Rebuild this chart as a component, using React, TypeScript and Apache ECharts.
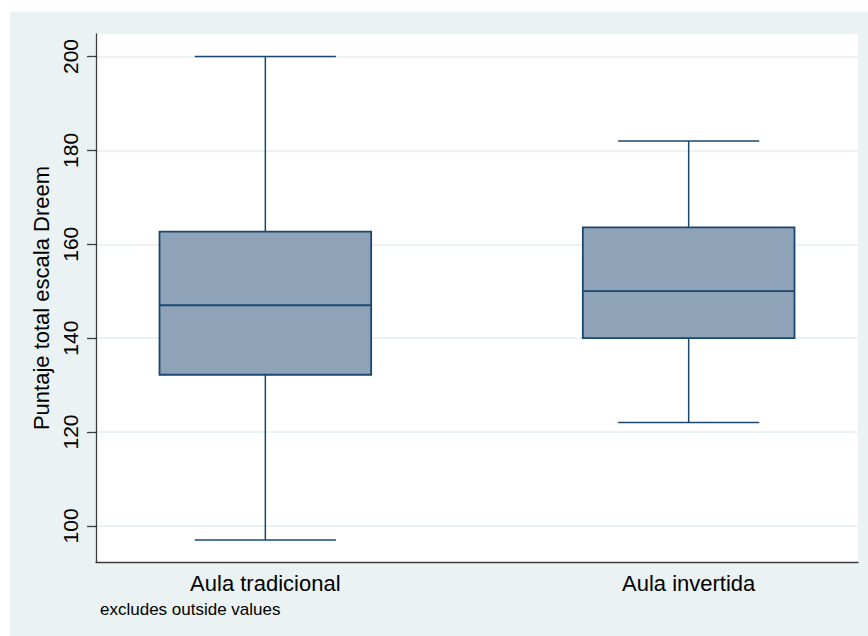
import React, { useEffect, useRef } from "react";
import * as echarts from "echarts";

// Groups and their box-plot summaries (whiskers exclude outside values)
const categories = ["Aula tradicional", "Aula invertida"];
const positions = [1, 2];
const lowerWhisker = [97, 122];
const q1 = [132.2, 140];
const median = [147, 150];
const q3 = [162.7, 163.6];
const upperWhisker = [200, 182];

const yTicks = [100, 120, 140, 160, 180, 200];

const BOX_WIDTH = 0.5; // in x-axis units
const CAP_WIDTH = 1 / 3;
const BOX_FILL = "#8ea3b8";
const BOX_LINE = "#1a476f";
const FONT = "Liberation Sans, Arial, Helvetica, sans-serif";

export default function App() {
  const ref = useRef<HTMLDivElement>(null);

  useEffect(() => {
    if (!ref.current) return;
    const chart = echarts.init(ref.current, undefined, { renderer: "svg" });

    const data = categories.map((_, i) => [
      positions[i],
      lowerWhisker[i],
      q1[i],
      median[i],
      q3[i],
      upperWhisker[i],
    ]);

    const renderItem = (params: any, api: any) => {
      const x = api.value(0);
      const pMin = api.coord([x, api.value(1)]);
      const pQ1 = api.coord([x, api.value(2)]);
      const pMed = api.coord([x, api.value(3)]);
      const pQ3 = api.coord([x, api.value(4)]);
      const pMax = api.coord([x, api.value(5)]);
      const boxW = api.size([BOX_WIDTH, 0])[0];
      const capW = api.size([CAP_WIDTH, 0])[0];
      const cx = pMed[0];
      const lineStyle = { stroke: BOX_LINE, lineWidth: 1.5, fill: null };
      return {
        type: "group",
        children: [
          { type: "line", shape: { x1: cx, y1: pMax[1], x2: cx, y2: pQ3[1] }, style: lineStyle },
          { type: "line", shape: { x1: cx, y1: pQ1[1], x2: cx, y2: pMin[1] }, style: lineStyle },
          { type: "line", shape: { x1: cx - capW / 2, y1: pMax[1], x2: cx + capW / 2, y2: pMax[1] }, style: lineStyle },
          { type: "line", shape: { x1: cx - capW / 2, y1: pMin[1], x2: cx + capW / 2, y2: pMin[1] }, style: lineStyle },
          {
            type: "rect",
            shape: { x: cx - boxW / 2, y: pQ3[1], width: boxW, height: pQ1[1] - pQ3[1] },
            style: { fill: BOX_FILL, stroke: BOX_LINE, lineWidth: 1.8 },
          },
          { type: "line", shape: { x1: cx - boxW / 2, y1: pMed[1], x2: cx + boxW / 2, y2: pMed[1] }, style: { stroke: BOX_LINE, lineWidth: 1.8 } },
        ],
      };
    };

    chart.setOption({
      animation: false,
      backgroundColor: "#eaf2f3",
      textStyle: { fontFamily: FONT },
      grid: {
        left: 86,
        top: 22,
        right: 10,
        bottom: 74,
        show: true,
        backgroundColor: "#ffffff",
        borderWidth: 0,
      },
      xAxis: {
        type: "value",
        min: 0.6,
        max: 2.4,
        axisLine: { show: true, lineStyle: { color: "#3c3c3c", width: 1.3 } },
        axisTick: { show: false },
        splitLine: { show: false },
        axisLabel: {
          customValues: positions,
          formatter: (v: number) => categories[positions.indexOf(Math.round(v))] ?? "",
          color: "#000",
          fontSize: 22,
          fontFamily: FONT,
          margin: 10,
        },
      },
      yAxis: {
        type: "value",
        min: 92.3,
        max: 204.8,
        name: "Puntaje total escala Dreem",
        nameLocation: "middle",
        nameRotate: 90,
        nameGap: 37,
        nameTextStyle: { color: "#000", fontSize: 22, fontFamily: FONT },
        axisLine: { show: true, lineStyle: { color: "#3c3c3c", width: 1.3 } },
        axisTick: {
          show: true,
          customValues: yTicks,
          length: 9,
          lineStyle: { color: "#3c3c3c", width: 1.3 },
        },
        axisLabel: {
          customValues: yTicks,
          rotate: 90,
          color: "#000",
          fontSize: 21,
          fontFamily: FONT,
          margin: 15,
        },
        splitLine: { show: true, lineStyle: { color: "#eaf2f3", width: 1.8 } },
      },
      graphic: [
        {
          type: "text",
          left: 90,
          top: 589,
          style: {
            text: "excludes outside values",
            fontSize: 17,
            fontFamily: FONT,
            fill: "#000",
          },
        },
      ],
      series: [
        {
          type: "custom",
          renderItem,
          encode: { x: 0, y: [1, 2, 3, 4, 5] },
          data,
        },
      ],
    });

    return () => chart.dispose();
  }, []);

  return (
    <div
      ref={ref}
      style={{ position: "absolute", left: 10, top: 12, width: 858, height: 624 }}
    />
  );
}
